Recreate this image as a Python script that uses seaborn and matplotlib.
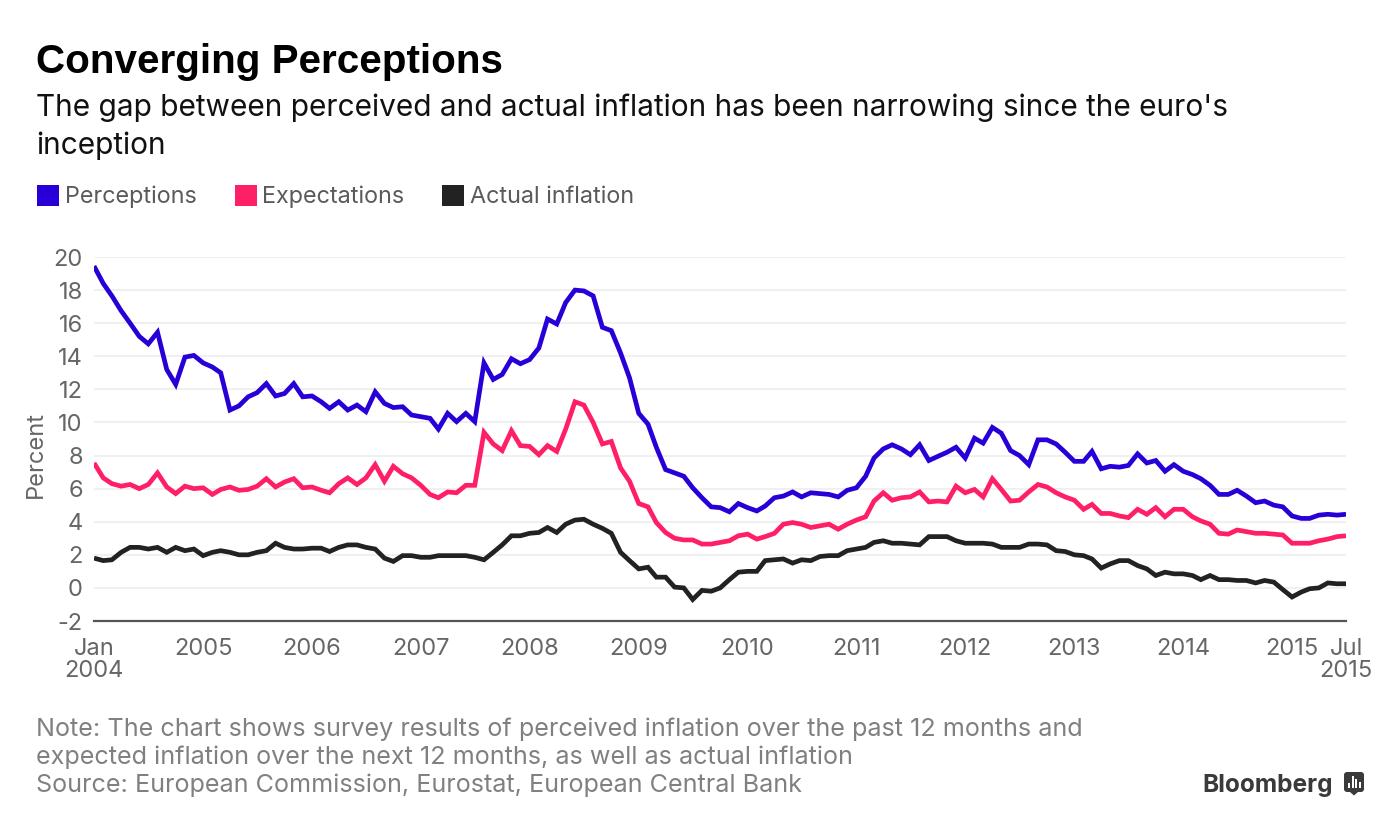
import pandas as pd
import matplotlib
matplotlib.use("Agg")
import matplotlib.pyplot as plt
import seaborn as sns
from matplotlib.patches import Patch, FancyBboxPatch, Polygon, Rectangle

# ---------------------------------------------------------
# 1. DATA (monthly, Jan 2004 - Jul 2015)
# ---------------------------------------------------------
months = pd.date_range("2004-01-01", periods=139, freq="MS")

perceptions = [
    19.45, 18.4, 17.65, 16.75, 16.0, 15.2, 14.75, 15.45, 13.2, 12.3, 13.95, 14.05,
    13.6, 13.35, 13.0, 10.75, 11.0, 11.55, 11.8, 12.35, 11.6, 11.75, 12.35, 11.55,
    11.6, 11.25, 10.85, 11.25, 10.75, 11.05, 10.65, 11.85, 11.15, 10.9, 10.95, 10.45,
    10.35, 10.25, 9.6, 10.55, 10.05, 10.55, 10.05, 13.6, 12.6, 12.9, 13.85, 13.55,
    13.8, 14.5, 16.25, 15.95, 17.25, 18.0, 17.95, 17.65, 15.75, 15.55, 14.2, 12.7,
    10.55, 9.9, 8.5, 7.15, 6.95, 6.75, 6.05, 5.45, 4.9, 4.85, 4.6, 5.1,
    4.85, 4.65, 4.95, 5.45, 5.55, 5.8, 5.5, 5.75, 5.7, 5.65, 5.5, 5.9,
    6.05, 6.75, 7.85, 8.4, 8.65, 8.4, 8.05, 8.65, 7.7, 7.95, 8.2, 8.5,
    7.85, 9.05, 8.75, 9.7, 9.35, 8.3, 8.0, 7.45, 8.95, 8.95, 8.7, 8.2,
    7.65, 7.65, 8.25, 7.2, 7.35, 7.3, 7.4, 8.1, 7.55, 7.7, 7.05, 7.45,
    7.05, 6.85, 6.6, 6.2, 5.65, 5.65, 5.9, 5.55, 5.15, 5.25, 5.0, 4.9,
    4.35, 4.2, 4.2, 4.4, 4.45, 4.4, 4.45,
]
expectations = [
    7.55, 6.65, 6.3, 6.15, 6.25, 6.0, 6.25, 6.95, 6.1, 5.7, 6.15, 6.0,
    6.05, 5.65, 5.95, 6.1, 5.9, 5.95, 6.15, 6.6, 6.1, 6.4, 6.6, 6.05,
    6.1, 5.9, 5.75, 6.3, 6.65, 6.25, 6.65, 7.45, 6.45, 7.35, 6.9, 6.65,
    6.2, 5.65, 5.45, 5.8, 5.75, 6.2, 6.2, 9.4, 8.7, 8.3, 9.5, 8.6,
    8.55, 8.05, 8.6, 8.25, 9.6, 11.25, 11.05, 10.0, 8.7, 8.85, 7.25, 6.45,
    5.1, 4.9, 3.95, 3.35, 3.0, 2.9, 2.9, 2.65, 2.65, 2.75, 2.85, 3.15,
    3.25, 2.95, 3.1, 3.3, 3.85, 3.95, 3.85, 3.65, 3.75, 3.85, 3.55, 3.85,
    4.1, 4.3, 5.25, 5.75, 5.3, 5.45, 5.5, 5.8, 5.2, 5.25, 5.2, 6.15,
    5.75, 5.95, 5.5, 6.6, 5.95, 5.25, 5.3, 5.8, 6.25, 6.1, 5.75, 5.5,
    5.3, 4.75, 5.05, 4.5, 4.5, 4.35, 4.25, 4.75, 4.45, 4.85, 4.3, 4.75,
    4.75, 4.3, 4.05, 3.85, 3.3, 3.25, 3.5, 3.4, 3.3, 3.3, 3.25, 3.2,
    2.7, 2.7, 2.7, 2.85, 2.95, 3.1, 3.15,
]
actual = [
    1.8, 1.65, 1.7, 2.15, 2.45, 2.45, 2.35, 2.45, 2.15, 2.45, 2.25, 2.35,
    1.95, 2.15, 2.25, 2.15, 2.0, 2.0, 2.15, 2.25, 2.7, 2.45, 2.35, 2.35,
    2.4, 2.4, 2.2, 2.45, 2.6, 2.6, 2.45, 2.35, 1.8, 1.6, 1.95, 1.95,
    1.85, 1.85, 1.95, 1.95, 1.95, 1.95, 1.85, 1.7, 2.15, 2.6, 3.15, 3.15,
    3.3, 3.35, 3.65, 3.35, 3.85, 4.1, 4.15, 3.85, 3.6, 3.3, 2.15, 1.65,
    1.15, 1.25, 0.65, 0.65, 0.05, 0.0, -0.7, -0.15, -0.2, 0.0, 0.5, 0.95,
    1.0, 1.0, 1.65, 1.7, 1.75, 1.5, 1.7, 1.65, 1.9, 1.95, 1.95, 2.25,
    2.35, 2.45, 2.75, 2.85, 2.7, 2.7, 2.65, 2.6, 3.1, 3.1, 3.1, 2.85,
    2.7, 2.7, 2.7, 2.65, 2.45, 2.45, 2.45, 2.65, 2.65, 2.6, 2.25, 2.2,
    2.0, 1.95, 1.75, 1.2, 1.45, 1.65, 1.65, 1.35, 1.15, 0.75, 0.95, 0.85,
    0.85, 0.75, 0.5, 0.75, 0.5, 0.5, 0.45, 0.45, 0.3, 0.45, 0.35, -0.1,
    -0.55, -0.25, -0.05, 0.0, 0.3, 0.25, 0.25,
]

series_names = ["Perceptions", "Expectations", "Actual inflation"]
series_colors = ["#2800D7", "#FF1F66", "#222222"]
y_ticks = list(range(-2, 21, 2))
x_tick_dates = pd.to_datetime(["%d-01-01" % y for y in range(2004, 2016)] + ["2015-07-01"])
x_tick_labels = ["Jan\n2004"] + [str(y) for y in range(2005, 2016)] + ["Jul\n2015"]

df = pd.DataFrame({"month": months, "Perceptions": perceptions,
                   "Expectations": expectations, "Actual inflation": actual})
df = df.melt(id_vars="month", var_name="series", value_name="percent")

# ---------------------------------------------------------
# 2. PLOT
# ---------------------------------------------------------
sns.set_style("white")
plt.rcParams["font.family"] = ["Inter", "DejaVu Sans"]
plt.rcParams["axes.unicode_minus"] = False

W, H = 1400, 835
fig = plt.figure(figsize=(14, 8.35), dpi=100)
ax = fig.add_axes([94 / W, 1 - 621 / H, (1346 - 94) / W, (621 - 257) / H])

sns.lineplot(data=df, x="month", y="percent", hue="series", hue_order=series_names,
             palette=series_colors, linewidth=3.4, legend=False, ax=ax,
             solid_capstyle="butt", solid_joinstyle="miter", zorder=3)

ax.set_xlim(months[0], months[-1])
ax.set_ylim(-2, 20)
ax.set_yticks(y_ticks)
ax.set_xticks(x_tick_dates)
ax.set_xticklabels(x_tick_labels)
ax.set_xlabel("")
ax.set_ylabel("")
ax.grid(axis="y", color="#ECECEC", linewidth=1.1)
ax.set_axisbelow(True)
for side in ["top", "left", "right"]:
    ax.spines[side].set_visible(False)
ax.spines["bottom"].set_color("#555555")
ax.spines["bottom"].set_linewidth(1.6)
ax.tick_params(axis="y", length=0, pad=8, labelsize=17, labelcolor="#666666")
ax.tick_params(axis="x", length=6, width=1.1, color="#555555", pad=6,
               labelsize=17, labelcolor="#666666")
for lab in ax.get_xticklabels():
    lab.set_linespacing(1.0)

fig.text(36 / W, 1 - 454 / H, "Percent", rotation=90, ha="center", va="center",
         fontsize=17, color="#666666")

# ---------------------------------------------------------
# 3. TITLES, LEGEND, NOTES
# ---------------------------------------------------------
fig.text(36 / W, 1 - 73 / H, "Converging Perceptions", fontsize=29.1, fontweight="bold",
         family=["Liberation Sans", "DejaVu Sans"], color="black", va="baseline")
fig.text(36 / W, 1 - 116 / H, "The gap between perceived and actual inflation has been narrowing since the euro's",
         fontsize=21.5, color="#111111", va="baseline")
fig.text(36 / W, 1 - 154 / H, "inception", fontsize=21.5, color="#111111", va="baseline")

handles = [Patch(facecolor=c, edgecolor="none", label=n) for n, c in zip(series_names, series_colors)]
fig.legend(handles=handles, loc="upper left", bbox_to_anchor=(37 / W, 1 - 185 / H), ncol=3,
           frameon=False, fontsize=16.85, labelcolor="#5A5A5A", handlelength=0.94, handleheight=0.98,
           handletextpad=0.25, columnspacing=1.62, borderpad=0, borderaxespad=0)

notes = ["Note: The chart shows survey results of perceived inflation over the past 12 months and",
         "expected inflation over the next 12 months, as well as actual inflation",
         "Source: European Commission, Eurostat, European Central Bank"]
for y, line in zip([736, 764, 792], notes):
    fig.text(36 / W, 1 - y / H, line, fontsize=18.1, color="#808080", va="baseline")

# Bloomberg logo
fig.text(1202 / W, 1 - 792 / H, "Bloomberg", fontsize=17.6, fontweight="bold",
         color="#3A3A3A", va="baseline")
logo = fig.add_axes([1344 / W, 1 - 796 / H, 20 / W, 24 / H])
logo.set_xlim(0, 20)
logo.set_ylim(0, 24)
logo.axis("off")
logo.add_patch(FancyBboxPatch((0, 4), 20, 20, boxstyle="round,pad=0,rounding_size=3",
                              facecolor="#3A3A3A", edgecolor="none"))
logo.add_patch(Polygon([[6, 4], [14, 4], [10, 0.5]], facecolor="#3A3A3A", edgecolor="none"))
for bx, bh in zip([3.5, 7.5, 11.5, 15], [5, 12, 9, 6]):
    logo.add_patch(Rectangle((bx, 8), 2, bh, facecolor="white", edgecolor="none"))

plt.savefig("out.png", dpi=100)
